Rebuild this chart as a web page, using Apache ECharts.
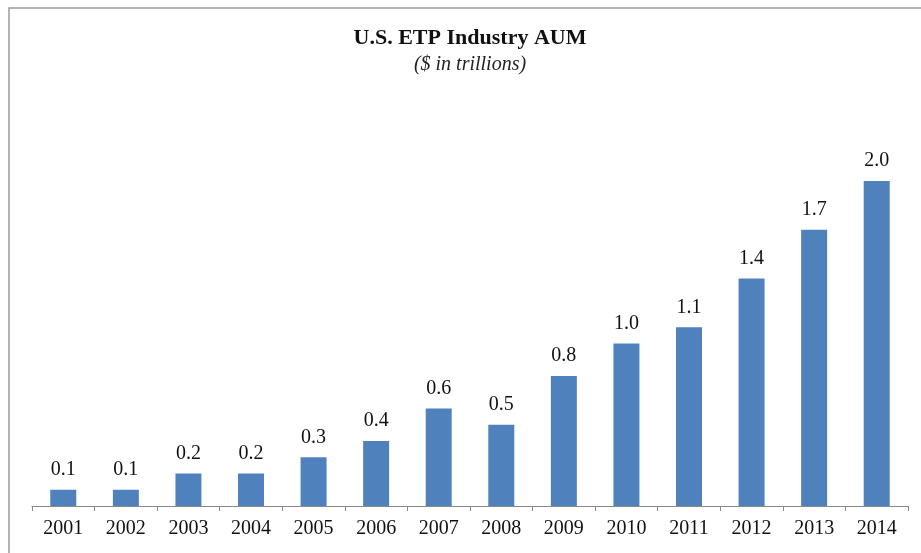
<!DOCTYPE html>
<html>
<head>
<meta charset="utf-8">
<style>
  html, body { margin: 0; padding: 0; background: #fff; }
  #main { width: 921px; height: 553px; }
</style>
<script src="https://cdn.jsdelivr.net/npm/echarts@6/dist/echarts.min.js"></script>
</head>
<body>
<div id="main"></div>
<script>
const years = ['2001', '2002', '2003', '2004', '2005', '2006', '2007',
  '2008', '2009', '2010', '2011', '2012', '2013', '2014'];
const aum = [0.1, 0.1, 0.2, 0.2, 0.3, 0.4, 0.6, 0.5, 0.8, 1.0, 1.1, 1.4, 1.7, 2.0];

const chart = echarts.init(document.getElementById('main'));
const serif = '"Liberation Serif", "Times New Roman", serif';

chart.setOption({
  animation: false,
  title: {
    text: 'U.S. ETP Industry AUM',
    subtext: '($ in trillions)',
    left: 465,
    textAlign: 'center',
    top: 22,
    itemGap: 6,
    textStyle: { fontFamily: serif, fontWeight: 'bold', fontSize: 22, color: '#111' },
    subtextStyle: { fontFamily: serif, fontStyle: 'italic', fontSize: 20, color: '#222' }
  },
  graphic: [{
    type: 'rect',
    shape: { x: 9, y: 8, width: 940, height: 600 },
    style: { fill: 'none', stroke: '#9a9a9a', lineWidth: 1.5 },
    silent: true
  }],
  grid: { left: 32, right: 13, top: 148.5, bottom: 47 },
  xAxis: {
    type: 'category',
    data: years,
    axisLine: { lineStyle: { color: '#888', width: 1 } },
    axisTick: { show: true, length: 5, lineStyle: { color: '#888' } },
    axisLabel: { fontFamily: serif, fontSize: 20, color: '#111', margin: 13 }
  },
  yAxis: {
    type: 'value',
    min: 0,
    max: 2.2,
    show: false,
    splitLine: { show: false }
  },
  series: [{
    type: 'bar',
    data: aum,
    barWidth: 26,
    itemStyle: { color: '#4f81bd' },
    label: {
      show: true,
      position: 'top',
      distance: 10,
      fontFamily: serif,
      fontSize: 20,
      color: '#111',
      formatter: p => p.value.toFixed(1)
    }
  }]
});
</script>
</body>
</html>
